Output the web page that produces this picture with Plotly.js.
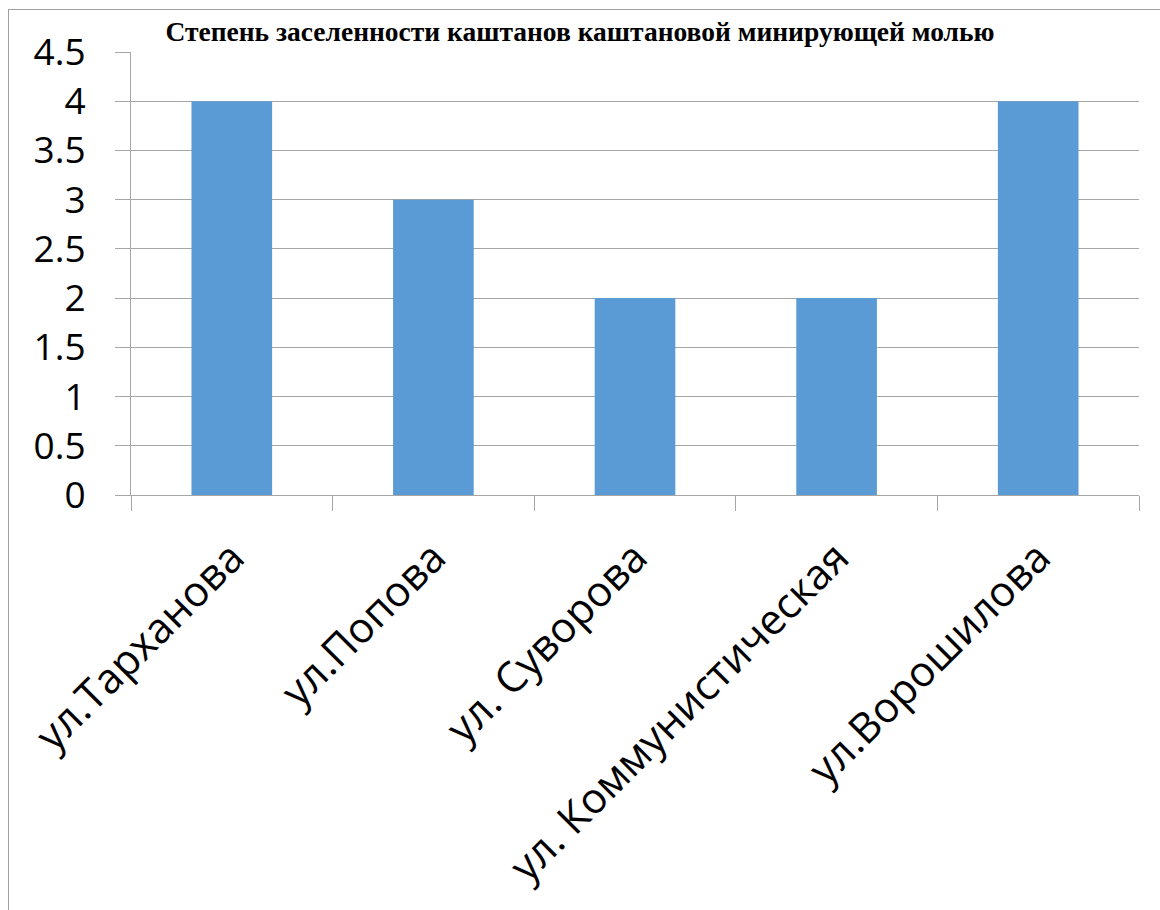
<!DOCTYPE html>
<html>
<head>
<meta charset="utf-8">
<script src="https://cdn.plot.ly/plotly-3.0.1.min.js"></script>
<style>
html,body{margin:0;padding:0;background:#fff;}
#frame{position:absolute;left:8px;top:9px;width:1160px;height:920px;border-left:1px solid #a0a0a0;border-top:1px solid #a0a0a0;}
#chart{position:absolute;left:0;top:0;width:1160px;height:910px;}
</style>
</head>
<body>
<div id="frame"></div>
<div id="chart"></div>
<script>
const categories = ["ул.Тарханова", "ул.Попова", "ул. Суворова", "ул. Коммунистическая", "ул.Ворошилова"];
const values = [4, 3, 2, 2, 4];
const titleText = "Степень заселенности каштанов каштановой минирующей молью";

const data = [{
  type: "bar",
  x: categories,
  y: values,
  marker: {color: "#5b9bd5"},
  hoverinfo: "x+y"
}];

const layout = {
  width: 1160,
  height: 910,
  paper_bgcolor: "rgba(0,0,0,0)",
  plot_bgcolor: "rgba(0,0,0,0)",
  margin: {l: 131, r: 21, t: 52, b: 415},
  bargap: 0.6,
  showlegend: false,
  title: {
    text: "<b>" + titleText + "</b>",
    font: {family: "Liberation Serif", size: 27.5, color: "#000"},
    x: 0.5, xanchor: "center",
    y: 1 - 31/910, yanchor: "middle"
  },
  xaxis: {
    type: "category",
    tickson: "boundaries",
    ticks: "outside",
    ticklen: 15,
    tickcolor: "#a6a6a6",
    tickwidth: 1,
    showline: true,
    linecolor: "#a6a6a6",
    linewidth: 1,
    showgrid: false,
    tickangle: -45,
    ticklabelstandoff: 20,
    tickfont: {family: "Open Sans", size: 42, color: "#000"}
  },
  yaxis: {
    range: [0, 4.5],
    dtick: 0.5,
    tick0: 0,
    ticks: "outside",
    ticklen: 15,
    tickcolor: "#a6a6a6",
    showline: true,
    linecolor: "#a6a6a6",
    showgrid: true,
    gridcolor: "#a6a6a6",
    gridwidth: 1,
    zeroline: false,
    ticklabelstandoff: 22,
    tickfont: {family: "Open Sans", size: 37, color: "#000"}
  }
};

Plotly.newPlot("chart", data, layout, {staticPlot: true});
</script>
</body>
</html>
